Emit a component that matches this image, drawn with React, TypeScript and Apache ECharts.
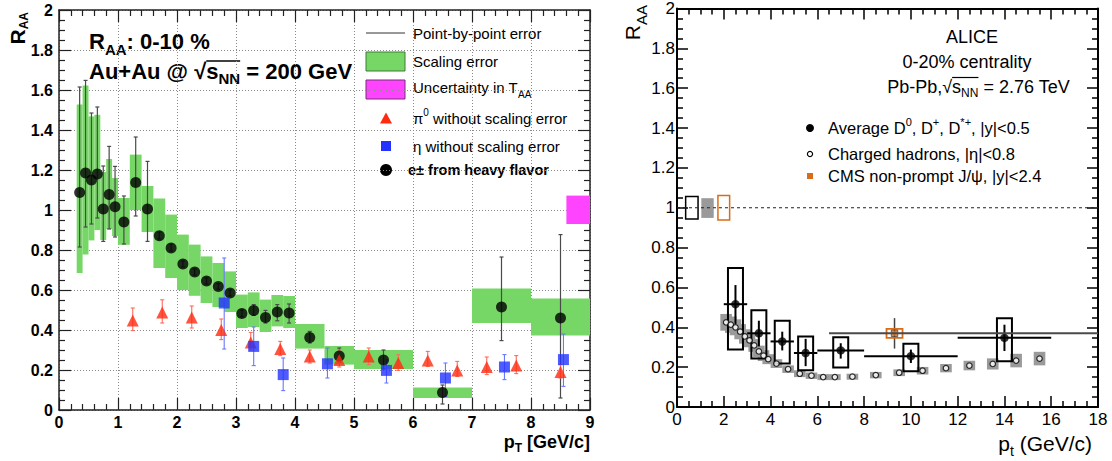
import React, { useEffect, useRef } from "react";
import * as echarts from "echarts";

const FONT = "'Liberation Sans', Arial, Helvetica, sans-serif";

// ---------------- Left panel: PHENIX Au+Au 0-10% ----------------
const hfPt = [0.35, 0.45, 0.55, 0.65, 0.75, 0.85, 0.95, 1.1, 1.3, 1.5, 1.7, 1.9, 2.1, 2.3, 2.5, 2.7, 2.9, 3.1, 3.3, 3.5, 3.7, 3.9, 4.25, 4.75, 5.5, 6.5, 7.5, 8.5];
const hfRaa = [1.088, 1.185, 1.15, 1.18, 1.005, 1.078, 1.016, 0.94, 1.138, 1.005, 0.871, 0.81, 0.73, 0.69, 0.645, 0.618, 0.585, 0.483, 0.498, 0.463, 0.49, 0.485, 0.363, 0.27, 0.25, 0.088, 0.515, 0.46];
const hfErrHi = [1.615, 1.648, 1.485, 1.515, 1.22, 1.318, 1.218, 1.07, 1.365, 1.243, 0.89, 0.83, 0.745, 0.705, 0.66, 0.632, 0.6, 0.5, 0.527, 0.498, 0.527, 0.53, 0.393, 0.31, 0.3, 0.125, 0.765, 0.877];
const hfErrLo = [0.815, 0.915, 0.93, 0.96, 0.843, 0.905, 0.865, 0.83, 0.97, 0.843, 0.855, 0.795, 0.715, 0.675, 0.63, 0.604, 0.57, 0.466, 0.473, 0.435, 0.446, 0.435, 0.335, 0.24, 0.205, 0.03, 0.347, 0.06];
const hfBinLo = [0.3, 0.4, 0.5, 0.6, 0.7, 0.8, 0.9, 1.0, 1.2, 1.4, 1.6, 1.8, 2.0, 2.2, 2.4, 2.6, 2.8, 3.0, 3.2, 3.4, 3.6, 3.8, 4.0, 4.5, 5.0, 6.0, 7.0, 8.0];
const hfBinHi = [0.4, 0.5, 0.6, 0.7, 0.8, 0.9, 1.0, 1.2, 1.4, 1.6, 1.8, 2.0, 2.2, 2.4, 2.6, 2.8, 3.0, 3.2, 3.4, 3.6, 3.8, 4.0, 4.5, 5.0, 6.0, 7.0, 8.0, 9.0];
const hfScaleHi = [1.527, 1.623, 1.468, 1.476, 1.19, 1.255, 1.16, 1.06, 1.277, 1.12, 1.057, 0.977, 0.877, 0.827, 0.768, 0.735, 0.693, 0.577, 0.588, 0.552, 0.575, 0.57, 0.43, 0.32, 0.3, 0.113, 0.607, 0.558];
const hfScaleLo = [0.685, 0.777, 0.848, 0.9, 0.85, 0.905, 0.87, 0.826, 1.0, 0.89, 0.71, 0.66, 0.6, 0.571, 0.535, 0.515, 0.49, 0.41, 0.415, 0.39, 0.418, 0.41, 0.307, 0.227, 0.205, 0.06, 0.435, 0.372];
const taaBox = [[8.6, 9.0, 0.93, 1.072]];

const pi0Pt = [1.25, 1.75, 2.25, 2.75, 3.25, 3.75, 4.25, 4.75, 5.25, 5.75, 6.25, 6.75, 7.25, 7.75, 8.5];
const pi0Raa = [0.448, 0.488, 0.463, 0.4, 0.338, 0.305, 0.268, 0.25, 0.268, 0.235, 0.248, 0.198, 0.215, 0.222, 0.19];
const pi0Hi = [0.51, 0.551, 0.52, 0.455, 0.388, 0.343, 0.3, 0.3, 0.31, 0.276, 0.293, 0.243, 0.265, 0.272, 0.227];
const pi0Lo = [0.397, 0.435, 0.41, 0.352, 0.3, 0.272, 0.235, 0.215, 0.227, 0.198, 0.218, 0.168, 0.177, 0.182, 0.16];

const etaPt = [2.8, 3.3, 3.8, 4.55, 5.55, 6.55, 7.55, 8.55];
const etaRaa = [0.535, 0.318, 0.177, 0.231, 0.198, 0.16, 0.215, 0.252];
const etaHi = [0.76, 0.415, 0.26, 0.31, 0.25, 0.235, 0.277, 0.38];
const etaLo = [0.305, 0.222, 0.097, 0.16, 0.135, 0.068, 0.152, 0.118];

// ---------------- Right panel: ALICE Pb-Pb 0-20% ----------------
const dPt = [2.5, 3.5, 4.5, 5.5, 7, 10, 14];
const dBinLo = [2, 3, 4, 5, 6, 8, 12];
const dBinHi = [3, 4, 5, 6, 8, 12, 16];
const dRaa = [0.516, 0.37, 0.329, 0.271, 0.284, 0.255, 0.347];
const dStatLo = [0.417, 0.304, 0.284, 0.205, 0.243, 0.221, 0.281];
const dStatHi = [0.612, 0.433, 0.378, 0.342, 0.32, 0.288, 0.413];
const dSysLo = [0.289, 0.243, 0.218, 0.185, 0.198, 0.18, 0.23];
const dSysHi = [0.697, 0.486, 0.433, 0.354, 0.35, 0.317, 0.446];

const hPt = [2.1, 2.3, 2.5, 2.7, 2.9, 3.1, 3.3, 3.5, 3.7, 3.9, 4.25, 4.75, 5.25, 5.75, 6.25, 6.75, 7.5, 8.5, 9.5, 10.5, 11.5, 12.5, 13.5, 14.5, 15.5];
const hRaa = [0.425, 0.413, 0.4, 0.378, 0.354, 0.334, 0.309, 0.279, 0.258, 0.24, 0.218, 0.19, 0.167, 0.157, 0.15, 0.15, 0.152, 0.16, 0.172, 0.182, 0.195, 0.208, 0.216, 0.233, 0.243];
const hSys = [0.042, 0.041, 0.04, 0.038, 0.036, 0.034, 0.032, 0.029, 0.027, 0.025, 0.022, 0.019, 0.017, 0.016, 0.015, 0.015, 0.015, 0.016, 0.017, 0.019, 0.021, 0.024, 0.028, 0.034, 0.034];

const jpsiPt = [9.3];
const jpsiRaa = [0.37];
const jpsiStatLo = [0.293];
const jpsiStatHi = [0.446];
const jpsiSysLo = [0.347];
const jpsiSysHi = [0.392];
const jpsiRange = [[6.5, 0.37], [18, 0.37]];

const normX0 = [0.37, 1.04, 1.75];
const normX1 = [0.9, 1.57, 2.25];
const normLo = [0.943, 0.949, 0.938];
const normHi = [1.057, 1.048, 1.061];
const unityLine = [[0, 1], [18, 1]];

const GREEN = "#77d766";
const MAGENTA = "#ff44ff";
const RED = "#ff2a10";
const BLUE = "#2233ff";
const ORANGE = "#d86c18";
const GREY = "#9a9a9a";

type Seg = { t: string; size: number; dy?: number; bold?: boolean; over?: boolean };

export default function App() {
  const ref = useRef<HTMLDivElement>(null);
  useEffect(() => {
    const canvas = document.createElement("canvas");
    const ctx = canvas.getContext("2d")!;
    const measure = (t: string, size: number, bold: boolean) => {
      ctx.font = `${bold ? "bold" : "normal"} ${size}px ${FONT}`;
      return ctx.measureText(t).width;
    };
    const rich = (segs: Seg[], x: number, y: number, opts: any = {}) => {
      const align = opts.align || "left";
      const color = opts.color || "#000";
      const widths = segs.map((s) => measure(s.t, s.size, s.bold ?? !!opts.bold));
      const total = widths.reduce((a, b) => a + b, 0);
      let cx = align === "left" ? 0 : align === "right" ? -total : -total / 2;
      const children: any[] = [];
      let os: number | null = null;
      let oe = 0;
      segs.forEach((s, i) => {
        const b = s.bold ?? !!opts.bold;
        children.push({
          type: "text",
          x: cx,
          y: s.dy || 0,
          style: {
            text: s.t,
            fontSize: s.size,
            fontWeight: b ? "bold" : "normal",
            fontFamily: FONT,
            fill: color,
            align: "left",
            verticalAlign: "middle",
            textAlign: "left",
            textVerticalAlign: "middle",
          },
        });
        if (s.over) {
          if (os === null) os = cx;
          oe = cx + widths[i];
        }
        cx += widths[i];
      });
      if (os !== null) {
        children.push({
          type: "line",
          shape: { x1: os, y1: opts.overY, x2: oe, y2: opts.overY },
          style: { stroke: color, lineWidth: opts.overW || 1.5 },
        });
      }
      return { type: "group", x, y, rotation: opts.rotation || 0, children };
    };

    const chart = echarts.init(ref.current!, null, { renderer: "svg" });

    const rectItem = (fill: string, stroke: string | null, lw: number) => (params: any, api: any) => {
      const a = api.coord([api.value(0), api.value(2)]);
      const b = api.coord([api.value(1), api.value(3)]);
      return {
        type: "rect",
        shape: { x: Math.min(a[0], b[0]), y: Math.min(a[1], b[1]), width: Math.abs(b[0] - a[0]), height: Math.abs(b[1] - a[1]) },
        style: { fill, stroke: stroke || "none", lineWidth: lw },
      };
    };
    const errItem = (color: string, lw: number, cap: number) => (params: any, api: any) => {
      const x = api.value(0);
      const lo = api.coord([x, api.value(1)]);
      const hi = api.coord([x, api.value(2)]);
      const ch: any[] = [
        { type: "line", shape: { x1: lo[0], y1: lo[1], x2: hi[0], y2: hi[1] }, style: { stroke: color, lineWidth: lw } },
      ];
      if (cap > 0) {
        ch.push({ type: "line", shape: { x1: lo[0] - cap, y1: lo[1], x2: lo[0] + cap, y2: lo[1] }, style: { stroke: color, lineWidth: lw } });
        ch.push({ type: "line", shape: { x1: hi[0] - cap, y1: hi[1], x2: hi[0] + cap, y2: hi[1] }, style: { stroke: color, lineWidth: lw } });
      }
      return { type: "group", children: ch };
    };

    const tickL = { color: "#222", width: 1.2 };
    const tickR = { color: "#000", width: 1.5 };
    const baseAxis = (o: any) => ({
      type: "value",
      axisLine: { show: true, onZero: false, lineStyle: o.line },
      axisTick: { show: true, inside: true, length: o.tl, lineStyle: o.tick },
      minorTick: { show: true, splitNumber: o.minor, length: o.ml, lineStyle: o.tick },
      minorSplitLine: { show: false },
      ...o.rest,
    });

    const leftLine = { color: "#222", width: 1.5 };
    const rightLine = { color: "#000", width: 2 };
    const leftLabel = { show: true, color: "#000", fontFamily: FONT, fontSize: 16, fontWeight: "bold", margin: 6 };
    const rightLabel = { show: true, color: "#000", fontFamily: FONT, fontSize: 17, margin: 5 };
    const gridLine = { show: true, lineStyle: { color: "#8a8a8a", type: [1, 2], width: 1 } };

    const xAxis = [
      baseAxis({ line: leftLine, tick: tickL, tl: 12, ml: 6, minor: 5, rest: { gridIndex: 0, min: 0, max: 9, interval: 1, position: "bottom", axisLabel: { ...leftLabel, margin: 4 }, splitLine: gridLine } }),
      baseAxis({ line: leftLine, tick: tickL, tl: 12, ml: 6, minor: 5, rest: { gridIndex: 0, min: 0, max: 9, interval: 1, position: "top", axisLabel: { show: false }, splitLine: { show: false } } }),
      baseAxis({ line: rightLine, tick: tickR, tl: 11, ml: 6, minor: 4, rest: { gridIndex: 1, min: 0, max: 18, interval: 2, position: "bottom", axisLabel: { ...rightLabel, margin: 4 }, splitLine: { show: false } } }),
      baseAxis({ line: rightLine, tick: tickR, tl: 11, ml: 6, minor: 4, rest: { gridIndex: 1, min: 0, max: 18, interval: 2, position: "top", axisLabel: { show: false }, splitLine: { show: false } } }),
    ];
    const yAxis = [
      baseAxis({ line: leftLine, tick: tickL, tl: 12, ml: 6, minor: 4, rest: { gridIndex: 0, min: 0, max: 2, interval: 0.2, position: "left", axisLabel: leftLabel, splitLine: gridLine } }),
      baseAxis({ line: leftLine, tick: tickL, tl: 12, ml: 6, minor: 4, rest: { gridIndex: 0, min: 0, max: 2, interval: 0.2, position: "right", axisLabel: { show: false }, splitLine: { show: false } } }),
      baseAxis({ line: rightLine, tick: tickR, tl: 11, ml: 6, minor: 4, rest: { gridIndex: 1, min: 0, max: 2, interval: 0.2, position: "left", axisLabel: { ...rightLabel, margin: 2 }, splitLine: { show: false } } }),
      baseAxis({ line: rightLine, tick: tickR, tl: 11, ml: 6, minor: 4, rest: { gridIndex: 1, min: 0, max: 2, interval: 0.2, position: "right", axisLabel: { show: false }, splitLine: { show: false } } }),
    ];

    const L = { xAxisIndex: 0, yAxisIndex: 0 };
    const R = { xAxisIndex: 2, yAxisIndex: 2 };

    const series: any[] = [
      // left
      { type: "custom", ...L, renderItem: rectItem(GREEN, null, 0), data: hfPt.map((_, i) => [hfBinLo[i], hfBinHi[i], hfScaleLo[i], hfScaleHi[i]]), silent: true },
      { type: "custom", ...L, renderItem: rectItem(MAGENTA, null, 0), data: taaBox, silent: true },
      { type: "custom", ...L, renderItem: errItem("#4a4a4a", 1.2, 2), data: hfPt.map((x, i) => [x, hfErrLo[i], hfErrHi[i]]), silent: true },
      { type: "scatter", ...L, symbol: "circle", symbolSize: 11, itemStyle: { color: "#000" }, data: hfPt.map((x, i) => [x, hfRaa[i]]), silent: true },
      { type: "custom", ...L, renderItem: errItem("#ff6a5a", 1.1, 2), data: pi0Pt.map((x, i) => [x, pi0Lo[i], pi0Hi[i]]), silent: true },
      { type: "scatter", ...L, symbol: "triangle", symbolSize: [12, 12], itemStyle: { color: RED }, data: pi0Pt.map((x, i) => [x, pi0Raa[i]]), silent: true },
      { type: "custom", ...L, renderItem: errItem("#6a78ff", 1.1, 2), data: etaPt.map((x, i) => [x, etaLo[i], etaHi[i]]), silent: true },
      { type: "scatter", ...L, symbol: "rect", symbolSize: 11, itemStyle: { color: BLUE }, data: etaPt.map((x, i) => [x, etaRaa[i]]), silent: true },
      // right
      { type: "line", ...R, data: unityLine, symbol: "none", lineStyle: { color: "#222", width: 1, type: [3, 3] }, silent: true },
      {
        type: "custom", ...R, silent: true,
        data: normX0.map((x, i) => [x, normX1[i], normLo[i], normHi[i], i]),
        renderItem: (params: any, api: any) => {
          const a = api.coord([api.value(0), api.value(2)]);
          const b = api.coord([api.value(1), api.value(3)]);
          const k = api.value(4);
          const styles = [
            { fill: "none", stroke: "#000", lineWidth: 1.5 },
            { fill: GREY, stroke: "none", lineWidth: 0 },
            { fill: "none", stroke: ORANGE, lineWidth: 1.5 },
          ];
          return { type: "rect", shape: { x: a[0], y: b[1], width: b[0] - a[0], height: a[1] - b[1] }, style: styles[k] };
        },
      },
      {
        type: "custom", ...R, silent: true,
        data: hPt.map((x, i) => [x, hRaa[i] - hSys[i], hRaa[i] + hSys[i]]),
        renderItem: (params: any, api: any) => {
          const lo = api.coord([api.value(0), api.value(1)]);
          const hi = api.coord([api.value(0), api.value(2)]);
          const hw = 5.8;
          return { type: "rect", shape: { x: lo[0] - hw, y: hi[1], width: 2 * hw, height: lo[1] - hi[1] }, style: { fill: GREY } };
        },
      },
      { type: "scatter", ...R, symbol: "circle", symbolSize: 5.5, itemStyle: { color: "#fff", borderColor: "#000", borderWidth: 1.2 }, data: hPt.map((x, i) => [x, hRaa[i]]), silent: true },
      { type: "line", ...R, data: jpsiRange, symbol: "none", lineStyle: { color: "#4a4a4a", width: 2 }, silent: true },
      {
        type: "custom", ...R, silent: true,
        data: dPt.map((x, i) => [x, dRaa[i], dBinLo[i], dBinHi[i], dStatLo[i], dStatHi[i], dSysLo[i], dSysHi[i]]),
        renderItem: (params: any, api: any) => {
          const pt = api.value(0);
          const r = api.value(1);
          const c = api.coord([pt, r]);
          const xl = api.coord([api.value(2), r]);
          const xh = api.coord([api.value(3), r]);
          const sl = api.coord([pt, api.value(4)]);
          const sh = api.coord([pt, api.value(5)]);
          const bl = api.coord([pt, api.value(6)]);
          const bh = api.coord([pt, api.value(7)]);
          const hw = 7.5;
          return {
            type: "group",
            children: [
              { type: "rect", shape: { x: c[0] - hw, y: bh[1], width: 2 * hw, height: bl[1] - bh[1] }, style: { fill: "none", stroke: "#000", lineWidth: 2 } },
              { type: "line", shape: { x1: xl[0], y1: c[1], x2: xh[0], y2: c[1] }, style: { stroke: "#000", lineWidth: 2 } },
              { type: "line", shape: { x1: c[0], y1: sl[1], x2: c[0], y2: sh[1] }, style: { stroke: "#000", lineWidth: 2 } },
            ],
          };
        },
      },
      { type: "scatter", ...R, symbol: "circle", symbolSize: 8.5, itemStyle: { color: "#000" }, data: dPt.map((x, i) => [x, dRaa[i]]), silent: true },
      {
        type: "custom", ...R, silent: true,
        data: jpsiPt.map((x, i) => [x, jpsiRaa[i], jpsiStatLo[i], jpsiStatHi[i], jpsiSysLo[i], jpsiSysHi[i]]),
        renderItem: (params: any, api: any) => {
          const pt = api.value(0);
          const sl = api.coord([pt, api.value(2)]);
          const sh = api.coord([pt, api.value(3)]);
          const bl = api.coord([pt, api.value(4)]);
          const bh = api.coord([pt, api.value(5)]);
          const hw = 8;
          return {
            type: "group",
            children: [
              { type: "line", shape: { x1: sl[0], y1: sl[1], x2: sh[0], y2: sh[1] }, style: { stroke: "#444", lineWidth: 1.5 } },
              { type: "rect", shape: { x: sl[0] - hw, y: bh[1], width: 2 * hw, height: bl[1] - bh[1] }, style: { fill: "none", stroke: ORANGE, lineWidth: 1.8 } },
            ],
          };
        },
      },
      { type: "scatter", ...R, symbol: "rect", symbolSize: 6.5, itemStyle: { color: ORANGE, borderColor: "#333", borderWidth: 0.8 }, data: jpsiPt.map((x, i) => [x, jpsiRaa[i]]), silent: true },
    ];

    const graphic: any[] = [
      // Left titles
      rich([{ t: "R", size: 22 }, { t: "AA", size: 15, dy: 8 }, { t: ": 0-10 %", size: 22 }], 89, 41, { bold: true }),
      rich(
        [{ t: "Au+Au @ ", size: 22 }, { t: "√", size: 22 }, { t: "s", size: 22, over: true }, { t: "NN", size: 15, dy: 7, over: true }, { t: " = 200 GeV", size: 22 }],
        89, 71, { bold: true, overY: -10, overW: 1.6 }
      ),
      // Left axis titles
      rich([{ t: "R", size: 21 }, { t: "AA", size: 12, dy: 6 }], 17.5, 12, { bold: true, align: "right", rotation: Math.PI / 2 }),
      rich([{ t: "p", size: 18 }, { t: "T", size: 12, dy: 6 }, { t: " [GeV/c]", size: 18 }], 590, 442, { bold: true, align: "right" }),
      // Left legend
      { type: "line", shape: { x1: 366, y1: 33, x2: 405, y2: 33 }, style: { stroke: "#333", lineWidth: 1 } },
      rich([{ t: "Point-by-point error", size: 15 }], 413, 33),
      { type: "rect", shape: { x: 366, y: 52, width: 39, height: 19 }, style: { fill: GREEN, stroke: "#3f7d35", lineWidth: 1 } },
      rich([{ t: "Scaling error", size: 15 }], 413, 61),
      { type: "rect", shape: { x: 366, y: 80, width: 39, height: 19 }, style: { fill: MAGENTA, stroke: "#7a2a7a", lineWidth: 1 } },
      rich([{ t: "Uncertainty in T", size: 15 }, { t: "AA", size: 10, dy: 7 }], 413, 87),
      { type: "polygon", shape: { points: [[380, 123.5], [392, 123.5], [386, 112.5]] }, style: { fill: RED } },
      rich([{ t: "π", size: 15 }, { t: "0", size: 10, dy: -6 }, { t: " without scaling error", size: 15 }], 413, 118),
      { type: "rect", shape: { x: 381, y: 141, width: 10, height: 10 }, style: { fill: BLUE } },
      rich([{ t: "η without scaling error", size: 15 }], 413, 146),
      { type: "circle", shape: { cx: 386, cy: 170, r: 6 }, style: { fill: "#000" } },
      rich([{ t: "e± from heavy flavor", size: 14.5 }], 408, 170, { bold: true }),
      // Right texts
      rich([{ t: "ALICE", size: 18 }], 972, 37, { align: "center" }),
      rich([{ t: "0-20% centrality", size: 18 }], 967, 62, { align: "center" }),
      rich(
        [{ t: "Pb-Pb,", size: 18 }, { t: "√", size: 18 }, { t: "s", size: 18, over: true }, { t: "NN", size: 12, dy: 6, over: true }, { t: " = 2.76 TeV", size: 18 }],
        1070, 87, { align: "right", overY: -9.5, overW: 1.2 }
      ),
      rich([{ t: "R", size: 21 }, { t: "AA", size: 15, dy: 9 }], 632.5, 5, { align: "right", rotation: Math.PI / 2 }),
      rich([{ t: "p", size: 21 }, { t: "t", size: 14, dy: 8 }, { t: " (GeV/c)", size: 21 }], 1092, 443, { align: "right" }),
      // Right legend
      { type: "circle", shape: { cx: 810, cy: 128, r: 4 }, style: { fill: "#000" } },
      rich(
        [{ t: "Average D", size: 16.5 }, { t: "0", size: 11, dy: -6 }, { t: ", D", size: 16.5 }, { t: "+", size: 11, dy: -6 }, { t: ", D", size: 16.5 }, { t: "*+", size: 11, dy: -6 }, { t: ", |y|<0.5", size: 16.5 }],
        828, 128
      ),
      { type: "circle", shape: { cx: 810, cy: 154, r: 2.6 }, style: { fill: "#fff", stroke: "#000", lineWidth: 1.2 } },
      rich([{ t: "Charged hadrons, |η|<0.8", size: 16.5 }], 828, 154),
      { type: "rect", shape: { x: 807, y: 173, width: 6, height: 6 }, style: { fill: ORANGE } },
      rich([{ t: "CMS non-prompt J/ψ, |y|<2.4", size: 16.5 }], 828, 176),
    ];

    chart.setOption({
      animation: false,
      backgroundColor: "#fff",
      grid: [
        { left: 59, top: 10, width: 531, height: 400 },
        { left: 677, top: 4, width: 421, height: 403 },
      ],
      xAxis,
      yAxis,
      series,
      graphic,
    });
    return () => chart.dispose();
  }, []);
  return <div ref={ref} style={{ position: "absolute", left: 0, top: 0, width: 1112, height: 461 }} />;
}
